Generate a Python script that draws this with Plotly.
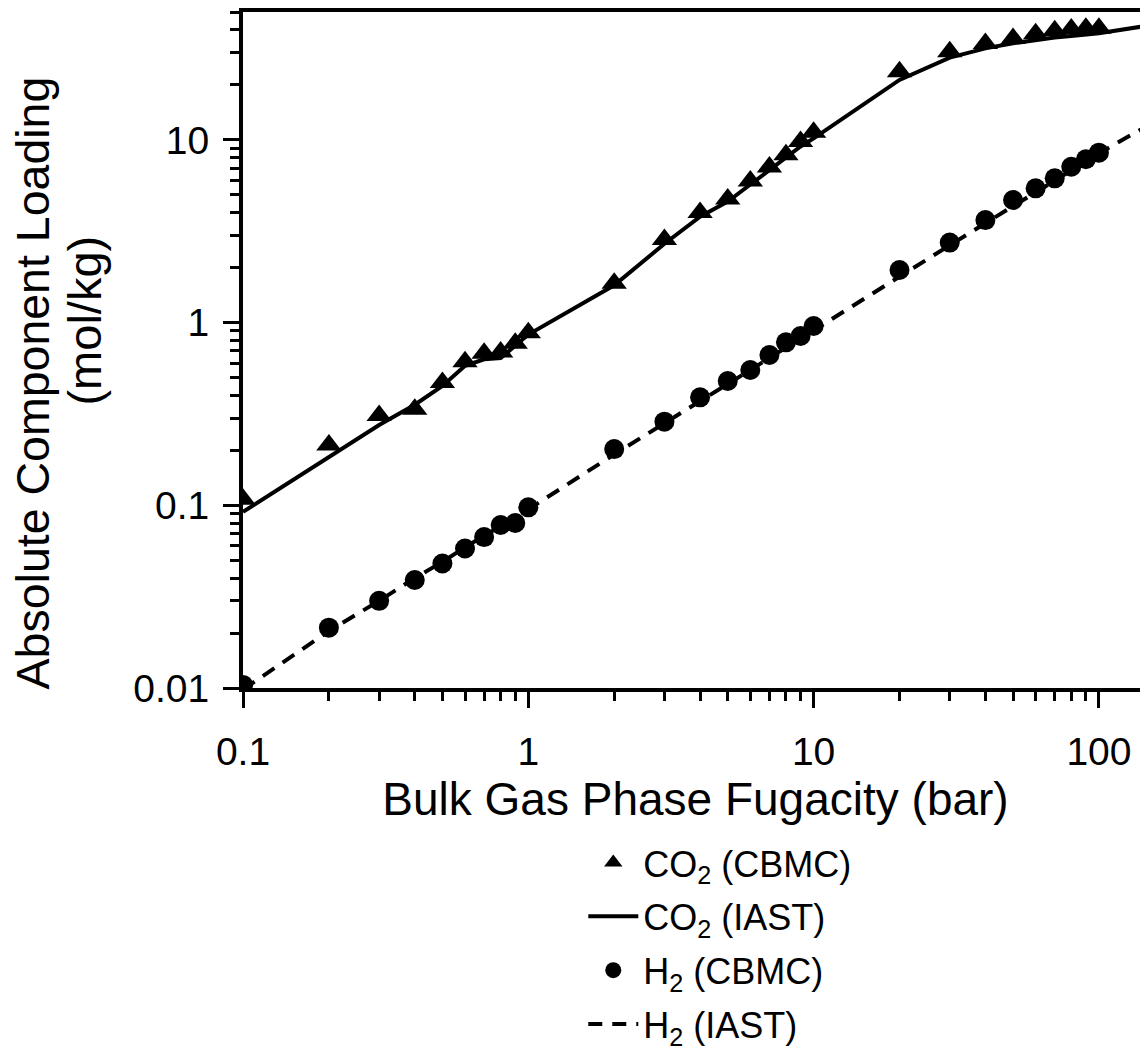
import math
import plotly.graph_objects as go

# ---- data ----
fugacity_cbmc = [0.1, 0.2, 0.3, 0.4, 0.5, 0.6, 0.7, 0.8, 0.9, 1,
                 2, 3, 4, 5, 6, 7, 8, 9, 10,
                 20, 30, 40, 50, 60, 70, 80, 90, 100]

co2_cbmc = [0.108, 0.214, 0.31, 0.335, 0.47, 0.61, 0.68, 0.69, 0.77, 0.88,
            1.64, 2.85, 4.0, 4.75, 5.95, 7.1, 8.3, 9.8, 11.0,
            23.6, 30.4, 33.7, 35.9, 38.1, 39.6, 40.5, 40.8, 40.8]

h2_cbmc = [0.0104, 0.0214, 0.030, 0.039, 0.048, 0.058, 0.067, 0.078, 0.080, 0.0975,
           0.203, 0.287, 0.39, 0.479, 0.55, 0.665, 0.78, 0.845, 0.958,
           1.94, 2.74, 3.64, 4.69, 5.43, 6.16, 7.13, 7.83, 8.51]

fugacity_iast = [0.1, 0.2, 0.3, 0.4, 0.5, 0.6, 0.7, 0.8, 0.9, 1,
                 2, 3, 4, 5, 6, 7, 8, 9, 10,
                 20, 30, 40, 50, 60, 70, 80, 90, 100, 150]

co2_iast = [0.092, 0.183, 0.275, 0.355, 0.45, 0.58, 0.63, 0.64, 0.75, 0.86,
            1.6, 2.7, 3.8, 4.6, 5.7, 6.8, 8.0, 9.2, 10.2,
            21.3, 28.2, 31.7, 33.8, 35.3, 36.3, 37.0, 37.7, 38.3, 42.3]

h2_iast = [0.0098, 0.0205, 0.030, 0.040, 0.049, 0.059, 0.068, 0.077, 0.086, 0.095,
           0.19, 0.28, 0.37, 0.46, 0.55, 0.64, 0.73, 0.82, 0.91,
           1.8, 2.65, 3.5, 4.35, 5.2, 6.0, 6.8, 7.6, 8.45, 12.1]

x_ticks = [0.1, 1, 10, 100]
x_ticktext = ["0.1", "1", "10", "100"]
y_ticks = [0.01, 0.1, 1, 10]
y_ticktext = ["0.01", "0.1", "1", "10"]

x_title = "Bulk Gas Phase Fugacity (bar)"
y_title_line1 = "Absolute Component Loading"
y_title_line2 = "(mol/kg)"

FONT = "Liberation Sans, Arial, Helvetica, sans-serif"

fig = go.Figure()

fig.add_trace(go.Scatter(
    x=fugacity_cbmc, y=co2_cbmc, mode="markers",
    name="CO<sub>2</sub> (CBMC)", legendgroup="a",
    marker=dict(symbol="triangle-up", size=22, color="black", line=dict(width=0)),
))
fig.add_trace(go.Scatter(
    x=fugacity_iast, y=co2_iast, mode="lines",
    name="CO<sub>2</sub> (IAST)", legendgroup="b",
    line=dict(color="black", width=4),
))
fig.add_trace(go.Scatter(
    x=fugacity_cbmc, y=h2_cbmc, mode="markers",
    name="H<sub>2</sub> (CBMC)", legendgroup="c",
    marker=dict(symbol="circle", size=20, color="black", line=dict(width=0)),
))
fig.add_trace(go.Scatter(
    x=fugacity_iast, y=h2_iast, mode="lines",
    name="H<sub>2</sub> (IAST)", legendgroup="d",
    line=dict(color="black", width=4, dash="14px,10px"),
))

minor_vals = []
for dec in [0.01, 0.1, 1, 10, 100]:
    for k in range(2, 10):
        minor_vals.append(round(dec * k, 6))

axis_common = dict(
    showline=True, linecolor="black", linewidth=4,
    ticks="outside", ticklen=16, tickwidth=3, tickcolor="black",
    showgrid=False, zeroline=False, automargin=False,
    tickfont=dict(family=FONT, size=39, color="black"),
    minor=dict(ticks="outside", ticklen=9, tickwidth=3, tickcolor="black",
               tickvals=minor_vals, showgrid=False),
)

fig.update_xaxes(
    type="log", range=[-1, math.log10(148.6)],
    tickvals=x_ticks, ticktext=x_ticktext, mirror=True,
    ticklabelstandoff=10,
    title=dict(text=x_title,
               font=dict(family=FONT, size=46, color="black"), standoff=11),
    **axis_common,
)
fig.update_yaxes(
    type="log", range=[-2, 1.70],
    tickvals=y_ticks, ticktext=y_ticktext,
    ticklabelstandoff=6,
    **axis_common,
)

# two-line y-axis title placed as in the reference
fig.add_annotation(
    text=y_title_line1, xref="paper", yref="paper",
    x=-0.2310, y=0.452, xanchor="center", yanchor="middle",
    textangle=-90, showarrow=False,
    font=dict(family=FONT, size=46.5, color="black"),
)
fig.add_annotation(
    text=y_title_line2, xref="paper", yref="paper",
    x=-0.1750, y=0.543, xanchor="center", yanchor="middle",
    textangle=-90, showarrow=False,
    font=dict(family=FONT, size=47, color="black"),
)

fig.update_layout(
    width=1140, height=1049,
    margin=dict(l=235, r=0, t=4, b=369, autoexpand=False),
    paper_bgcolor="white", plot_bgcolor="white",
    font=dict(family=FONT, color="black"),
    showlegend=True,
    legend=dict(
        x=0.376, y=-0.214, xanchor="left", yanchor="top",
        font=dict(family=FONT, size=36, color="black"),
        bgcolor="rgba(0,0,0,0)", borderwidth=0,
        itemsizing="trace", itemwidth=50, tracegroupgap=4,
    ),
)

fig.write_html("out.html")
